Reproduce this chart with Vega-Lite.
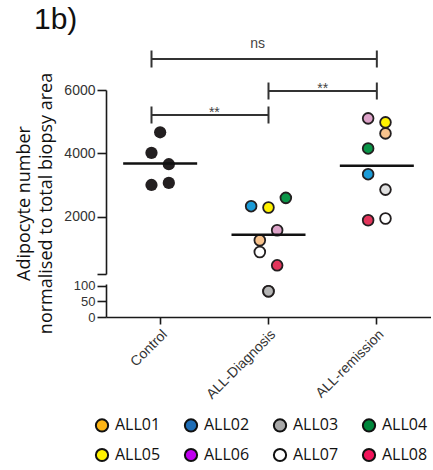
{
  "$schema": "https://vega.github.io/schema/vega-lite/v6.json",
  "padding": {"left": 14, "top": 5, "right": 0, "bottom": 0},
  "bounds": "flush",
  "spacing": 10,
  "title": {"text": "1b)", "anchor": "start", "font": "Liberation Sans", "fontSize": 30, "fontWeight": "normal", "color": "#111", "dx": 19, "offset": 2},
  "datasets": {
    "pts": [
      {"group": "Control", "patient": "Control", "value": 4667, "slot": 0},
      {"group": "Control", "patient": "Control", "value": 4020, "slot": -1},
      {"group": "Control", "patient": "Control", "value": 3660, "slot": 1},
      {"group": "Control", "patient": "Control", "value": 3006, "slot": -1},
      {"group": "Control", "patient": "Control", "value": 3070, "slot": 1},
      {"group": "ALL-Diagnosis", "patient": "ALL02", "value": 2338, "slot": -2},
      {"group": "ALL-Diagnosis", "patient": "ALL05", "value": 2297, "slot": 0},
      {"group": "ALL-Diagnosis", "patient": "ALL04", "value": 2600, "slot": 2},
      {"group": "ALL-Diagnosis", "patient": "ALL06", "value": 1580, "slot": 1},
      {"group": "ALL-Diagnosis", "patient": "ALL01", "value": 1264, "slot": -1},
      {"group": "ALL-Diagnosis", "patient": "ALL07", "value": 894, "slot": -1},
      {"group": "ALL-Diagnosis", "patient": "ALL08", "value": 474, "slot": 1},
      {"group": "ALL-Diagnosis", "patient": "ALL03", "value": 82, "slot": 0},
      {"group": "ALL-remission", "patient": "ALL06", "value": 5106, "slot": -1},
      {"group": "ALL-remission", "patient": "ALL05", "value": 4980, "slot": 1},
      {"group": "ALL-remission", "patient": "ALL01", "value": 4632, "slot": 1},
      {"group": "ALL-remission", "patient": "ALL04", "value": 4158, "slot": -1},
      {"group": "ALL-remission", "patient": "ALL02", "value": 3346, "slot": -1},
      {"group": "ALL-remission", "patient": "ALL03", "value": 2860, "slot": 1},
      {"group": "ALL-remission", "patient": "ALL07", "value": 1950, "slot": 1},
      {"group": "ALL-remission", "patient": "ALL08", "value": 1895, "slot": -1}
    ],
    "brackets": [
      {"from": "Control", "to": "ALL-remission", "level": 6977, "label": "ns"},
      {"from": "Control", "to": "ALL-Diagnosis", "level": 5212, "label": "**"},
      {"from": "ALL-Diagnosis", "to": "ALL-remission", "level": 5968, "label": "**"}
    ]
  },
  "vconcat": [
    {
      "width": 325,
      "height": 184,
      "layer": [
        {
          "data": {"name": "pts"},
          "transform": [{"filter": "datum.group === 'Control'"}],
          "mark": {"type": "point", "filled": true, "size": 150, "fill": "#231F20", "strokeWidth": 0, "opacity": 1},
          "encoding": {
            "x": {"field": "group", "type": "nominal", "scale": {"type": "band", "domain": ["Control", "ALL-Diagnosis", "ALL-remission"], "paddingInner": 0, "paddingOuter": 0}, "axis": null},
            "xOffset": {"field": "slot", "type": "quantitative", "scale": {"domain": [-2, 2], "range": [36.8, 71.5]}},
            "y": {"field": "value", "type": "quantitative", "scale": {"domain": [200, 6000], "nice": false, "zero": false},
              "axis": {"values": [200, 2000, 4000, 6000], "format": "d", "labelExpr": "datum.value == 200 ? '' : datum.label", "tickSize": 9, "labelPadding": 2,
                "title": ["Adipocyte number", "normalised to total biopsy area"], "titleFont": "Open Sans", "titleFontSize": 18, "titleFontWeight": "normal", "titleColor": "#111", "titleLineHeight": 22, "titleX": -73, "titleY": 113}}
          }
        },
        {
          "data": {"name": "pts"},
          "transform": [{"filter": "datum.group !== 'Control' && datum.value >= 200"}],
          "mark": {"type": "point", "filled": true, "size": 115, "stroke": "#231F20", "strokeWidth": 1.8, "opacity": 1},
          "encoding": {
            "x": {"field": "group", "type": "nominal"},
            "xOffset": {"field": "slot", "type": "quantitative"},
            "y": {"field": "value", "type": "quantitative"},
            "fill": {
              "condition": {"test": "datum.group === 'ALL-remission' && datum.patient === 'ALL03'", "value": "#E0E0E0"},
              "field": "patient", "type": "nominal",
              "scale": {"domain": ["ALL01", "ALL02", "ALL03", "ALL04", "ALL05", "ALL06", "ALL07", "ALL08"], "range": ["#F8C38D", "#1B9BD7", "#B5B5B5", "#0A9648", "#FFF200", "#DDA3C9", "#FFFFFF", "#E2355B"]},
              "legend": null
            }
          }
        },
        {
          "data": {"name": "pts"},
          "mark": {"type": "tick", "size": 74, "thickness": 2.5, "color": "#111", "opacity": 1},
          "encoding": {
            "x": {"field": "group", "type": "nominal"},
            "y": {"aggregate": "mean", "field": "value", "type": "quantitative"}
          }
        },
        {
          "data": {"name": "brackets"},
          "transform": [{"filter": "datum.from === 'Control'"}],
          "mark": {"type": "rule", "color": "#333", "strokeWidth": 2},
          "encoding": {
            "x": {"field": "from", "type": "nominal", "bandPosition": 0.42},
            "x2": {"field": "to", "bandPosition": 0.5},
            "y": {"field": "level", "type": "quantitative"}
          }
        },
        {
          "data": {"name": "brackets"},
          "transform": [{"filter": "datum.from !== 'Control'"}],
          "mark": {"type": "rule", "color": "#333", "strokeWidth": 2},
          "encoding": {
            "x": {"field": "from", "type": "nominal", "bandPosition": 0.5},
            "x2": {"field": "to", "bandPosition": 0.5},
            "y": {"field": "level", "type": "quantitative"}
          }
        },
        {
          "data": {"name": "brackets"},
          "transform": [{"filter": "datum.from === 'Control'"}],
          "mark": {"type": "tick", "orient": "vertical", "size": 17, "thickness": 2, "color": "#333", "opacity": 1},
          "encoding": {
            "x": {"field": "from", "type": "nominal", "bandPosition": 0.42},
            "y": {"field": "level", "type": "quantitative"}
          }
        },
        {
          "data": {"name": "brackets"},
          "transform": [{"filter": "datum.from !== 'Control'"}],
          "mark": {"type": "tick", "orient": "vertical", "size": 17, "thickness": 2, "color": "#333", "opacity": 1},
          "encoding": {
            "x": {"field": "from", "type": "nominal"},
            "y": {"field": "level", "type": "quantitative"}
          }
        },
        {
          "data": {"name": "brackets"},
          "mark": {"type": "tick", "orient": "vertical", "size": 17, "thickness": 2, "color": "#333", "opacity": 1},
          "encoding": {
            "x": {"field": "to", "type": "nominal"},
            "y": {"field": "level", "type": "quantitative"}
          }
        },
        {
          "data": {"name": "brackets"},
          "transform": [{"filter": "datum.label === '**'"}],
          "mark": {"type": "text", "font": "Liberation Sans", "fontSize": 14, "color": "#444", "baseline": "alphabetic", "dy": 2},
          "encoding": {
            "x": {"field": "to", "type": "nominal", "bandPosition": 0},
            "y": {"field": "level", "type": "quantitative"},
            "text": {"field": "label"}
          }
        },
        {
          "data": {"name": "brackets"},
          "transform": [{"filter": "datum.label === 'ns'"}],
          "mark": {"type": "text", "font": "Liberation Sans", "fontSize": 14, "color": "#444", "baseline": "alphabetic", "dy": -11},
          "encoding": {
            "x": {"datum": "ALL-Diagnosis", "type": "nominal", "bandPosition": 0.4},
            "y": {"field": "level", "type": "quantitative"},
            "text": {"field": "label"}
          }
        }
      ]
    },
    {
      "width": 325,
      "height": 33,
      "data": {"name": "pts"},
      "transform": [{"filter": "datum.value < 200"}],
      "encoding": {
        "x": {"field": "group", "type": "nominal", "scale": {"type": "band", "domain": ["Control", "ALL-Diagnosis", "ALL-remission"], "paddingInner": 0, "paddingOuter": 0},
          "axis": {"title": null, "labelAngle": -45, "tickSize": 7, "labelPadding": 3}},
        "xOffset": {"field": "slot", "type": "quantitative", "scale": {"domain": [-2, 2], "range": [36.8, 71.5]}},
        "y": {"field": "value", "type": "quantitative", "scale": {"domain": [0, 105], "nice": false},
          "axis": {"values": [0, 50, 100], "format": "d", "tickSize": 9, "labelPadding": 2, "labelOverlap": false, "labelFontSize": 13, "title": null}}
      },
      "layer": [
        {
          "mark": {"type": "point", "filled": true, "size": 115, "stroke": "#231F20", "strokeWidth": 1.8, "opacity": 1},
          "encoding": {
            "fill": {
              "field": "patient", "type": "nominal",
              "scale": {"domain": ["ALL01", "ALL02", "ALL03", "ALL04", "ALL05", "ALL06", "ALL07", "ALL08"], "range": ["#FDB515", "#1E6DB6", "#A8A8A8", "#00873C", "#FFF200", "#C000F0", "#FFFFFF", "#F0145A"]},
              "legend": {"orient": "none", "legendX": -12, "legendY": 133, "columns": 4, "direction": "horizontal", "title": null,
                "symbolType": "circle", "symbolSize": 150, "symbolStrokeColor": "#111", "symbolStrokeWidth": 2, "symbolOpacity": 1,
                "labelFont": "Open Sans", "labelFontSize": 16, "labelColor": "#111", "labelOffset": 5, "columnPadding": 19, "rowPadding": 8, "padding": 0}
            }
          }
        },
        {
          "mark": {"type": "point", "filled": true, "size": 115, "stroke": "#231F20", "strokeWidth": 1.8, "opacity": 1},
          "encoding": {
            "fill": {
              "field": "patient", "type": "nominal",
              "scale": {"domain": ["ALL01", "ALL02", "ALL03", "ALL04", "ALL05", "ALL06", "ALL07", "ALL08"], "range": ["#F8C38D", "#1B9BD7", "#B5B5B5", "#0A9648", "#FFF200", "#DDA3C9", "#FFFFFF", "#E2355B"]},
              "legend": null
            }
          }
        }
      ],
      "resolve": {"scale": {"fill": "independent"}}
    }
  ],
  "config": {
    "view": {"stroke": null},
    "axis": {"domainColor": "#1a1a1a", "domainWidth": 1.6, "tickColor": "#1a1a1a", "tickWidth": 1.6, "labelFont": "Liberation Sans", "labelFontSize": 14, "labelColor": "#333", "grid": false}
  }
}
